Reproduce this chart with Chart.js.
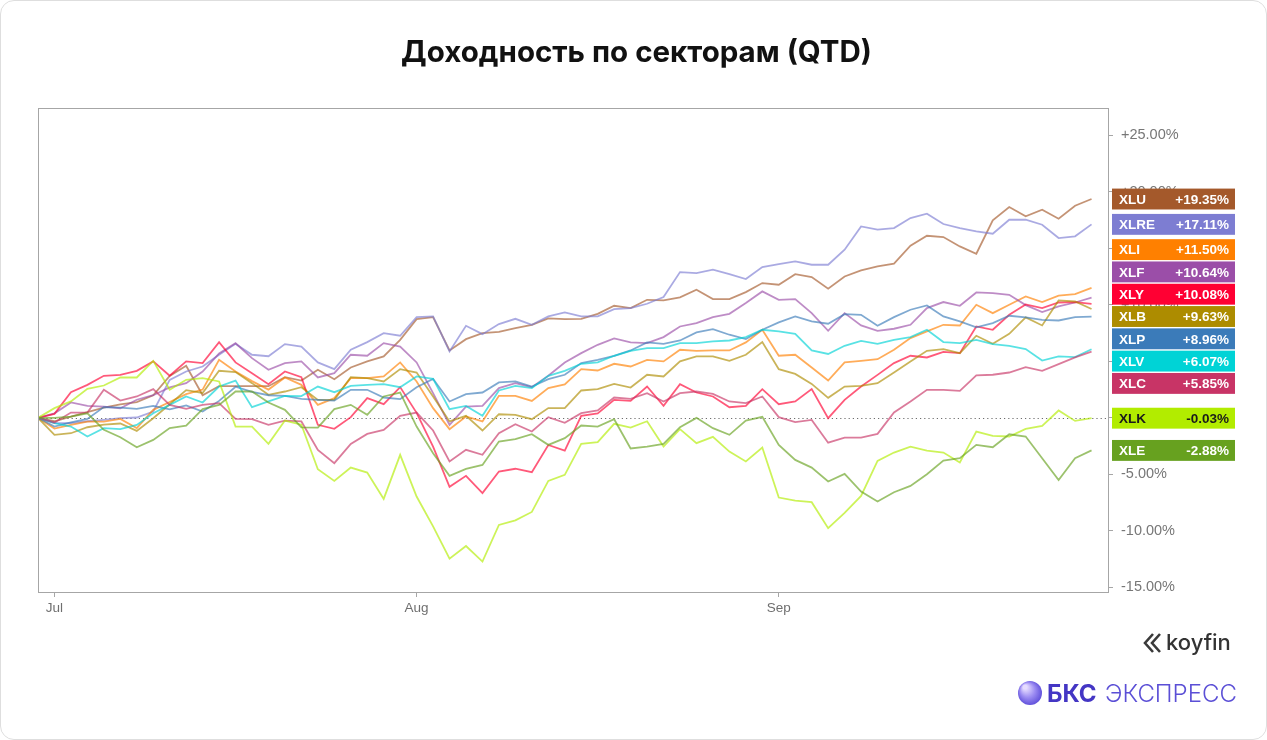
<!DOCTYPE html>
<html>
<head>
<meta charset="utf-8">
<script src="https://cdn.jsdelivr.net/npm/chart.js@4.4.1/dist/chart.umd.min.js"></script>
<style>
  html, body { margin: 0; padding: 0; background: #fff; }
  #wrap { position: relative; width: 1267px; height: 740px; overflow: hidden; }
  #frame { position: absolute; left: 0; top: 0; width: 1265px; height: 738px; border: 1px solid #dedede; border-radius: 14px; pointer-events: none; }
  canvas { position: absolute; left: 0; top: 0; }
</style>
</head>
<body>
<div id="wrap">
  <canvas id="chart" width="1267" height="740" style="width:1267px;height:740px"></canvas>
  <div id="frame"></div>
</div>
<script>
// ============================================
// Доходность секторов S&P 500 с начала квартала (QTD), %
// Точка 0 = база, далее торговые дни июль–сентябрь
// ============================================

const chartTitle = 'Доходность по секторам (QTD)';

// Подписи месяцев и индексы торговых дней, где они стоят
const monthLabels = ['Jul', 'Aug', 'Sep'];
const monthIndex = [1, 23, 45];

// Деления оси Y, %
const yTicks = [-15, -10, -5, 0, 5, 10, 15, 20, 25];

const tickers = ['XLU', 'XLRE', 'XLI', 'XLF', 'XLY', 'XLB', 'XLP', 'XLV', 'XLC', 'XLK', 'XLE'];
const tickerColors = ['#a4592b', '#7d7dd2', '#ff8000', '#9b4ea8', '#ff0033', '#ad8c00', '#3b7bb9', '#00d3d6', '#c83466', '#b2ec00', '#67a11f'];

const xlu = [0, -0.3, 0.1, 0.5, 0.9, 1.2, 1.4, 2.0, 3.7, 4.6, 2.0, 2.8, 2.8, 2.8, 2.8, 3.6, 3.3, 4.25, 3.42, 4.45, 4.99, 5.43, 6.9, 8.73, 8.9, 5.96, 6.96, 7.49, 7.61, 7.94, 8.23, 8.79, 8.73, 8.76, 9.2, 9.91, 9.71, 10.44, 10.38, 10.65, 11.33, 10.5, 10.5, 11.12, 11.92, 11.77, 12.71, 12.45, 11.42, 12.5, 13.04, 13.4, 13.63, 15.22, 16.1, 15.99, 15.16, 14.51, 17.46, 18.64, 17.82, 18.41, 17.61, 18.76, 19.35];
const xlre = [0, -0.47, -0.47, -0.3, -0.18, -0.03, 0.03, 0.56, 3.36, 4.1, 4.54, 5.58, 6.55, 5.58, 5.45, 6.52, 6.31, 4.9, 4.31, 6.02, 6.7, 7.49, 7.26, 8.9, 8.97, 5.87, 8.14, 7.4, 8.29, 8.76, 8.23, 8.97, 9.32, 8.97, 8.97, 9.62, 9.71, 10.09, 10.68, 12.89, 12.8, 13.1, 12.71, 12.27, 13.33, 13.6, 13.83, 13.54, 13.54, 14.87, 16.93, 16.64, 16.78, 17.67, 18.05, 17.14, 16.78, 16.49, 16.28, 17.52, 17.52, 17.08, 15.9, 16.05, 17.11];
const xli = [0, -0.95, -0.62, -0.33, -0.33, -0.1, -0.9, 0.71, 1.4, 2.1, 2.5, 5.13, 4.1, 3.25, 2.5, 3.57, 2.92, 1.15, 1.74, 3.51, 3.51, 3.66, 4.9, 3.22, 0.86, -1.0, 0.12, -0.32, 1.95, 1.95, 1.5, 2.63, 2.95, 4.31, 4.19, 4.78, 4.54, 5.13, 4.99, 6.02, 5.93, 5.96, 5.96, 6.67, 7.79, 5.49, 5.58, 4.45, 3.3, 4.9, 5.04, 5.19, 6.02, 7.05, 7.64, 8.23, 8.17, 10.0, 9.26, 10.0, 10.74, 10.24, 10.8, 10.94, 11.5];
const xlf = [0, 0.4, 1.36, 1.06, 1.0, 0.85, 1.6, 2.0, 2.7, 3.07, 4.1, 5.7, 6.6, 5.28, 4.25, 4.84, 4.99, 3.57, 3.95, 5.58, 5.49, 6.61, 6.31, 4.9, 2.18, -0.62, 1.0, 1.06, 2.63, 3.07, 2.71, 3.72, 4.9, 5.72, 6.46, 7.02, 6.67, 6.61, 7.14, 8.08, 8.38, 8.91, 9.2, 10.15, 11.18, 10.44, 10.5, 9.26, 7.7, 9.26, 8.17, 7.7, 7.88, 8.23, 9.71, 10.24, 9.91, 11.09, 11.03, 10.88, 9.97, 9.35, 9.85, 10.2, 10.64];
const xly = [0, 0.35, 2.27, 2.92, 3.72, 3.8, 4.16, 4.99, 3.72, 4.99, 4.84, 6.7, 4.9, 3.95, 2.97, 4.1, 3.6, -0.62, -0.97, 0.06, 1.74, 1.21, 2.72, 0.44, -2.55, -6.1, -5.13, -6.65, -4.75, -4.5, -4.8, -2.4, -2.9, 0.18, 0.4, 1.59, 1.5, 2.77, 1.06, 2.98, 2.24, 1.89, 0.94, 1.06, 2.54, 1.21, 1.45, 2.54, -0.03, 1.59, 2.77, 3.8, 4.84, 5.49, 5.34, 5.84, 5.72, 8.08, 7.79, 9.12, 10.03, 9.7, 10.2, 10.24, 10.08];
const xlb = [0, -1.5, -1.36, -0.83, -0.6, -0.5, -1.15, -0.03, 1.2, 2.45, 2.2, 4.16, 4.05, 3.07, 2.04, 2.33, 2.71, 1.59, 1.59, 3.6, 3.51, 3.22, 4.31, 4.01, 1.89, -0.32, 0.18, -1.12, 0.32, 0.27, -0.12, 0.86, 0.86, 2.42, 2.54, 3.0, 2.68, 3.81, 3.66, 4.99, 5.43, 5.43, 5.04, 5.58, 6.7, 4.31, 3.89, 3.0, 1.77, 2.77, 2.83, 3.07, 4.01, 4.99, 5.93, 6.08, 5.72, 7.26, 6.55, 7.43, 8.88, 8.17, 10.38, 10.29, 9.63];
const xlp = [0, -0.77, -0.4, -0.1, 0.95, 0.9, 0.8, 1.05, 0.75, 1.1, 0.56, 1.5, 2.75, 2.3, 2.0, 1.95, 1.68, 1.59, 1.53, 2.48, 2.48, 1.8, 1.65, 2.71, 3.45, 1.45, 2.09, 2.24, 3.13, 3.22, 2.77, 3.42, 3.81, 4.84, 5.13, 5.49, 5.96, 6.67, 6.55, 6.84, 7.55, 7.85, 7.35, 6.96, 7.79, 8.44, 8.97, 8.53, 8.32, 9.17, 9.11, 8.14, 8.91, 9.56, 9.94, 8.97, 8.53, 8.0, 8.38, 9.03, 8.88, 8.67, 8.61, 8.91, 8.96];
const xlv = [0, -0.47, -0.77, -1.65, -0.91, -1.0, -0.62, 0.41, 1.15, 1.89, 1.36, 2.77, 3.3, 0.94, 1.45, 1.95, 1.92, 2.77, 2.27, 2.83, 2.92, 2.98, 2.71, 3.66, 3.45, 0.77, 1.06, 0.18, 2.42, 2.83, 2.63, 3.72, 4.15, 4.78, 4.9, 5.49, 5.93, 6.17, 6.17, 6.61, 6.61, 6.76, 6.84, 7.14, 7.79, 7.64, 7.43, 5.96, 5.65, 6.37, 6.81, 6.55, 6.9, 7.14, 7.79, 6.7, 6.61, 6.9, 6.52, 6.37, 6.08, 5.07, 5.43, 5.37, 6.07];
const xlc = [0, -0.41, 0.47, 0.47, 2.48, 1.53, 1.89, 2.54, 1.15, 0.8, 1.15, 1.3, -0.09, -0.12, -0.62, -0.24, -0.32, -2.83, -4.01, -2.3, -1.42, -1.06, 0.18, 0.47, -1.12, -3.86, -2.83, -3.27, -1.36, -0.56, -1.21, 0.06, -0.44, 0.41, 0.65, 1.8, 1.68, 2.18, 1.45, 2.18, 2.33, 2.12, 1.45, 1.3, 1.89, 0.06, -0.38, -0.18, -2.2, -1.74, -1.74, -1.42, 0.47, 1.45, 2.48, 2.48, 2.39, 3.75, 3.81, 4.01, 4.48, 4.16, 4.75, 5.34, 5.85];
const xlk = [0, 0.86, 1.45, 2.57, 2.86, 3.57, 3.57, 5.04, 2.48, 3.36, 3.51, 3.22, -0.77, -0.77, -2.3, -0.24, -0.6, -4.54, -5.58, -4.4, -4.84, -7.17, -3.27, -6.96, -9.6, -12.45, -11.33, -12.71, -9.47, -9.06, -8.32, -5.58, -5.04, -2.3, -2.15, -0.53, -0.86, -0.3, -2.54, -1.0, -2.24, -1.68, -2.98, -3.86, -2.63, -7.05, -7.32, -7.46, -9.76, -8.4, -6.9, -3.8, -3.07, -2.54, -2.89, -3.07, -3.95, -1.21, -1.59, -1.65, -0.97, -0.71, 0.65, -0.27, -0.03];
const xle = [0, 0.0, 0.1, 0.4, -1.06, -1.71, -2.6, -1.95, -0.91, -0.68, 0.77, 1.15, 2.33, 2.33, 1.36, 0.71, -0.85, -0.86, 0.77, 1.15, 0.27, 1.89, 2.24, -0.77, -3.13, -5.13, -4.51, -4.16, -2.09, -1.89, -1.45, -2.39, -1.8, -0.68, -0.77, -0.12, -2.71, -2.54, -2.3, -0.83, 0, -0.91, -1.5, -0.24, 0.09, -2.39, -3.72, -4.4, -5.63, -4.96, -6.52, -7.4, -6.58, -6.02, -4.99, -3.78, -3.57, -2.39, -2.6, -1.45, -1.65, -3.57, -5.49, -3.57, -2.88];

const seriesValues = [xlu, xlre, xli, xlf, xly, xlb, xlp, xlv, xlc, xlk, xle];

// Полупрозрачный цвет линии из цвета метки
function fade(hex, a) {
  const n = parseInt(hex.slice(1), 16);
  return `rgba(${(n >> 16) & 255},${(n >> 8) & 255},${n & 255},${a})`;
}

const fmtPct = v => (v > 0 ? '+' : '') + v.toFixed(2) + '%';

// Рисуем рамку, нулевую линию, заголовок, плашки и логотипы
const decorPlugin = {
  id: 'decor',
  beforeDatasetsDraw(chart) {
    const { ctx, chartArea: a, scales } = chart;
    ctx.save();
    // пунктир на нуле
    const y0 = Math.round(scales.y.getPixelForValue(0)) + 0.5;
    ctx.strokeStyle = '#6d6d6d';
    ctx.lineWidth = 1.2;
    ctx.setLineDash([1.2, 3]);
    ctx.beginPath();
    ctx.moveTo(a.left, y0);
    ctx.lineTo(a.right, y0);
    ctx.stroke();
    ctx.restore();
  },
  afterDraw(chart) {
    const { ctx, chartArea: a, scales } = chart;
    ctx.save();
    // рамка области графика
    ctx.strokeStyle = '#a6a6a6';
    ctx.lineWidth = 1;
    ctx.strokeRect(a.left + 0.5, a.top + 0.5, a.right - a.left, a.bottom - a.top);

    // заголовок
    ctx.fillStyle = '#111';
    ctx.font = 'bold 29.5px Inter, "Noto Sans", sans-serif';
    ctx.textAlign = 'center';
    ctx.textBaseline = 'middle';
    ctx.fillText(chartTitle, chart.width / 2 + 3, 53);

    // плашки с последними значениями (раздвигаем перекрывающиеся группы)
    const H = 22.3;
    const items = chart.data.datasets.map((ds, i) => {
      const last = seriesValues[i][seriesValues[i].length - 1];
      return { name: tickers[i], value: last, color: tickerColors[i], dark: tickers[i] === 'XLK', target: scales.y.getPixelForValue(last) };
    }).sort((p, q) => p.target - q.target);
    let groups = items.map(it => ({ items: [it] }));
    const place = g => {
      const mean = g.items.reduce((s, it) => s + it.target, 0) / g.items.length;
      g.top = mean - g.items.length * H / 2;
      g.bottom = g.top + g.items.length * H;
    };
    groups.forEach(place);
    let changed = true;
    while (changed) {
      changed = false;
      for (let k = 0; k < groups.length - 1; k++) {
        if (groups[k].bottom > groups[k + 1].top) {
          groups[k].items = groups[k].items.concat(groups[k + 1].items);
          groups.splice(k + 1, 1);
          place(groups[k]);
          changed = true;
          break;
        }
      }
    }
    const bx = a.right + 4, bw = 123;
    groups.forEach(g => {
      g.items.forEach((it, j) => {
        const yc = g.top + H * j + H / 2;
        ctx.fillStyle = it.color;
        ctx.fillRect(bx, yc - H / 2 + 0.7, bw, H - 1.4);
        ctx.fillStyle = it.dark ? '#1a1a1a' : '#fff';
        ctx.font = 'bold 13.5px "Liberation Sans", Arial, sans-serif';
        ctx.textBaseline = 'middle';
        ctx.textAlign = 'left';
        ctx.fillText(it.name, bx + 7, yc + 1);
        ctx.textAlign = 'right';
        ctx.fillText(fmtPct(it.value), bx + bw - 6, yc + 1);
      });
    });

    // логотип koyfin
    ctx.strokeStyle = '#3a3a3a';
    ctx.lineWidth = 2.6;
    ctx.lineJoin = 'miter';
    ctx.beginPath();
    ctx.moveTo(1153, 634); ctx.lineTo(1145, 643); ctx.lineTo(1153, 652);
    ctx.moveTo(1160, 634); ctx.lineTo(1152, 643); ctx.lineTo(1160, 652);
    ctx.stroke();
    ctx.fillStyle = '#333';
    ctx.font = '500 22px Inter, "Noto Sans", sans-serif';
    ctx.textAlign = 'left';
    ctx.textBaseline = 'alphabetic';
    ctx.fillText('koyfin', 1166, 650);

    // логотип БКС Экспресс
    const gr = ctx.createRadialGradient(1025, 687, 2, 1030, 693, 13);
    gr.addColorStop(0, '#e6dcff');
    gr.addColorStop(0.5, '#9c8cf2');
    gr.addColorStop(1, '#5a4ad8');
    ctx.fillStyle = gr;
    ctx.beginPath();
    ctx.arc(1030, 693, 12, 0, Math.PI * 2);
    ctx.fill();
    ctx.fillStyle = '#4436c4';
    ctx.font = 'bold 24px Inter, "Noto Sans", sans-serif';
    ctx.fillText('БКС', 1047, 702);
    ctx.fillStyle = '#5b4fd6';
    ctx.font = '300 24px Inter, "Noto Sans", sans-serif';
    ctx.fillText('ЭКСПРЕСС', 1105, 702);
    ctx.restore();
  }
};

new Chart(document.getElementById('chart'), {
  type: 'line',
  data: {
    datasets: seriesValues.map((vals, i) => ({
      label: tickers[i],
      data: vals.map((v, k) => ({ x: k, y: v })),
      borderColor: fade(tickerColors[i], 0.65),
      borderWidth: 1.8,
      pointRadius: 0,
      tension: 0
    })).reverse()
  },
  options: {
    responsive: false,
    animation: false,
    layout: { padding: { left: 38, top: 108, right: 0, bottom: 0 } },
    plugins: {
      legend: { display: false },
      tooltip: { enabled: false },
      title: { display: false }
    },
    scales: {
      x: {
        type: 'linear',
        min: 0,
        max: 65,
        afterFit: s => { s.height = 148; },
        afterBuildTicks: s => { s.ticks = monthIndex.map(v => ({ value: v })); },
        grid: { drawOnChartArea: false, drawTicks: true, tickLength: 5, color: '#a6a6a6' },
        border: { display: false },
        ticks: {
          color: '#6f6f6f',
          font: { size: 13.5, family: '"Liberation Sans", Arial, sans-serif' },
          padding: 3,
          maxRotation: 0,
          autoSkip: false,
          callback: v => monthLabels[monthIndex.indexOf(v)]
        }
      },
      y: {
        position: 'right',
        min: -15.4,
        max: 27.4,
        afterFit: s => { s.width = 159; },
        afterBuildTicks: s => { s.ticks = yTicks.map(v => ({ value: v })); },
        grid: { drawOnChartArea: false, drawTicks: true, tickLength: 5, color: '#a6a6a6' },
        border: { display: false },
        ticks: {
          color: '#777',
          font: { size: 14.5, family: '"Liberation Sans", Arial, sans-serif' },
          padding: 8,
          callback: v => fmtPct(v)
        }
      }
    }
  },
  plugins: [decorPlugin]
});
</script>
</body>
</html>
